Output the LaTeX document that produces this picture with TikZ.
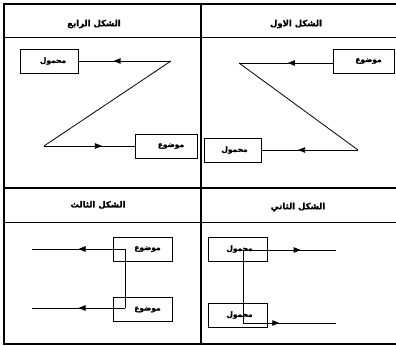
\documentclass[tikz,border=0pt]{standalone}
\usepackage{fontspec}
\newfontfamily\arabicfont[Script=Arabic,FakeBold=1.6]{DejaVu Sans Bold}
\TeXXeTstate=1
\usetikzlibrary{arrows.meta,decorations.markings}
\tikzset{
  frameline/.style={line width=1.3bp},
  headline/.style={line width=0.9bp},
  lbox/.style={draw, line width=0.8bp, minimum width=#1, minimum height=24bp, inner sep=0pt, font=\arabicfont\fontsize{7.5}{8}\selectfont},
  conn/.style={line width=0.8bp},
  midarrow/.style={postaction={decorate}, decoration={markings, mark=at position #1 with {\arrow{Triangle[length=7bp,width=5.5bp]}}}},
  title/.style={font=\arabicfont\fontsize{8.5}{9}\selectfont, inner sep=0pt},
}
\newcommand{\ar}[1]{\beginR #1\endR}
\begin{document}
\begin{tikzpicture}[x=1bp,y=-1bp]
\useasboundingbox (0,0) rectangle (396,346);
% frame
\draw[frameline] (396,4) -- (4,4) -- (4,344) -- (396,344);
\draw[frameline] (201,4) -- (201,344);
\draw[frameline] (4,188) -- (396,188);
\draw[headline] (4,37) -- (396,37);
\draw[headline] (4,222) -- (396,222);
% titles
\node[title] (t1) at (94,24) {\ar{الشكل الرابع}};
\node[title] (t2) at (296,24) {\ar{الشكل الاول}};
\node[title] (t3) at (98,205) {\ar{الشكل الثالث}};
\node[title] (t4) at (298,207) {\ar{الشكل الثاني}};
% panel 1 (top-left)
\node[lbox=58bp] (a1) at (49,61) {\hspace*{8bp}\ar{محمول}};
\node[lbox=62bp] (b1) at (166,146) {\hspace*{10bp}\ar{موضوع}};
\coordinate (c1) at (171,61);
\coordinate (c2) at (44,146);
\draw[conn, midarrow=0.62] (c1) -- (a1.east);
\draw[conn] (c1) -- (c2);
\draw[conn, midarrow=0.64] (c2) -- (b1.west);
% panel 2 (top-right)
\node[lbox=61bp] (b2) at (363.5,61) {\hspace*{10bp}\ar{موضوع}};
\node[lbox=57bp] (a2) at (232.5,150) {\hspace*{4bp}\ar{محمول}};
\coordinate (c3) at (239,63);
\coordinate (c4) at (358,150);
\coordinate (b2w) at (333,63);
\draw[conn, midarrow=0.48] (b2w) -- (c3);
\draw[conn] (c3) -- (c4);
\draw[conn, midarrow=0.62] (c4) -- (a2.east);
% panel 3 (bottom-left)
\node[lbox=59bp] (m1) at (142.5,249) {\hspace*{10bp}\ar{موضوع}};
\node[lbox=59bp] (m2) at (142.5,309.5) {\hspace*{10bp}\ar{موضوع}};
\coordinate (d1) at (125,249);
\coordinate (d2) at (125,308);
\coordinate (e1) at (32,249);
\coordinate (e2) at (32,308);
\draw[conn, midarrow=0.50] (d1) -- (e1);
\draw[conn] (d1) -- (d2);
\draw[conn, midarrow=0.50] (d2) -- (e2);
% panel 4 (bottom-right)
\node[lbox=59bp] (h1) at (237.5,249) {\hspace*{4bp}\ar{محمول}};
\node[lbox=59bp] (h2) at (237.5,315) {\hspace*{4bp}\ar{محمول}};
\coordinate (f1) at (243,250);
\coordinate (f2) at (243,323);
\coordinate (g1) at (336,250);
\coordinate (g2) at (336,323);
\draw[conn, midarrow=0.62] (f1) -- (g1);
\draw[conn] (f1) -- (f2);
\draw[conn, midarrow=0.39] (f2) -- (g2);
\end{tikzpicture}
\end{document}
